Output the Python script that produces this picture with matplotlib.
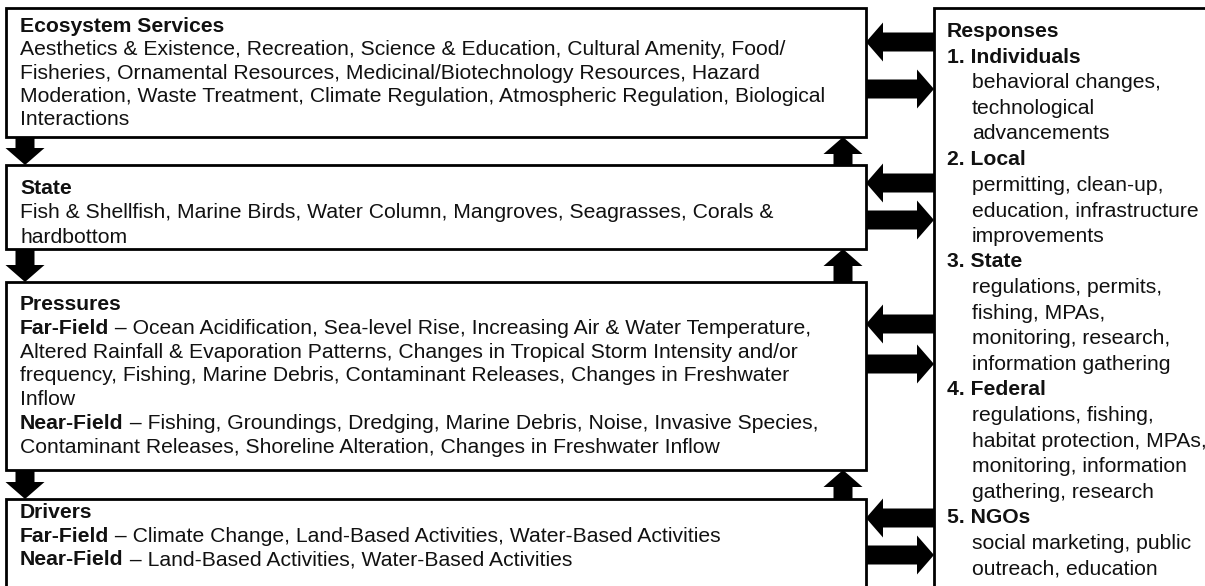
import matplotlib.pyplot as plt
from matplotlib.patches import Rectangle

plt.rcParams['font.family'] = ['Liberation Sans', 'DejaVu Sans']

# left column boxes: title + lines of (bold prefix, plain text)
services_title = "Ecosystem Services"
services_lines = [
    ("", "Aesthetics & Existence, Recreation, Science & Education, Cultural Amenity, Food/"),
    ("", "Fisheries, Ornamental Resources, Medicinal/Biotechnology Resources, Hazard"),
    ("", "Moderation, Waste Treatment, Climate Regulation, Atmospheric Regulation, Biological"),
    ("", "Interactions"),
]
state_title = "State"
state_lines = [
    ("", "Fish & Shellfish, Marine Birds, Water Column, Mangroves, Seagrasses, Corals &"),
    ("", "hardbottom"),
]
pressures_title = "Pressures"
pressures_lines = [
    ("Far-Field", " \u2013 Ocean Acidification, Sea-level Rise, Increasing Air & Water Temperature,"),
    ("", "Altered Rainfall & Evaporation Patterns, Changes in Tropical Storm Intensity and/or"),
    ("", "frequency, Fishing, Marine Debris, Contaminant Releases, Changes in Freshwater"),
    ("", "Inflow"),
    ("Near-Field", " \u2013 Fishing, Groundings, Dredging, Marine Debris, Noise, Invasive Species,"),
    ("", "Contaminant Releases, Shoreline Alteration, Changes in Freshwater Inflow"),
]
drivers_title = "Drivers"
drivers_lines = [
    ("Far-Field", " \u2013 Climate Change, Land-Based Activities, Water-Based Activities"),
    ("Near-Field", " \u2013 Land-Based Activities, Water-Based Activities"),
]

responses_title = "Responses"
response_groups = [
    ("1. Individuals", ["behavioral changes,", "technological", "advancements"]),
    ("2. Local", ["permitting, clean-up,", "education, infrastructure", "improvements"]),
    ("3. State", ["regulations, permits,", "fishing, MPAs,", "monitoring, research,",
                  "information gathering"]),
    ("4. Federal", ["regulations, fishing,", "habitat protection, MPAs,",
                    "monitoring, information", "gathering, research"]),
    ("5. NGOs", ["social marketing, public", "outreach, education"]),
]

fig = plt.figure(figsize=(12.05, 5.86), dpi=100)
ax = fig.add_axes([0, 0, 1, 1])
ax.set_xlim(0, 1205)
ax.set_ylim(586, 0)
ax.axis('off')
r = fig.canvas.get_renderer()
fs = 15.2
txt_col = '#111111'


def put_line(x, y, bold, rest):
    if bold:
        t = ax.text(x, y, bold, fontsize=fs, fontweight='bold', va='baseline', color=txt_col)
        x += t.get_window_extent(renderer=r).width
    if rest:
        ax.text(x, y, rest, fontsize=fs, va='baseline', color=txt_col)


# boxes: (top, bottom, first baseline, line pitch)
boxes = [
    (services_title, services_lines, 8, 137, 32, 23.3),
    (state_title, state_lines, 165, 249, 194, 24.5),
    (pressures_title, pressures_lines, 282, 470, 310, 23.8),
    (drivers_title, drivers_lines, 499, 640, 518, 23.5),
]
bx0, bx1 = 6, 866
for title, lines, top, bot, base, pitch in boxes:
    ax.add_patch(Rectangle((bx0, top), bx1 - bx0, bot - top, fc='white',
                           ec='black', lw=2))
    put_line(20, base, title, "")
    for i, (b, rest) in enumerate(lines):
        put_line(20, base + (i + 1) * pitch, b, rest)

# responses box
rx0 = 934
ax.add_patch(Rectangle((rx0, 8), 400, 700, fc='white', ec='black', lw=2))
y = 37
pitch = 25.6
put_line(947, y, responses_title, "")
for head, subs in response_groups:
    y += pitch
    put_line(947, y, head, "")
    for s in subs:
        y += pitch
        ax.text(972, y, s, fontsize=fs, va='baseline', color=txt_col)

arrow_kw = dict(width=19, head_width=39, head_length=17,
                length_includes_head=True, fc='black', ec='none')

# vertical arrows between boxes
for i in range(len(boxes) - 1):
    b_top = boxes[i][3]
    n_top = boxes[i + 1][2]
    ax.arrow(25, b_top, 0, n_top - b_top, **arrow_kw)
    ax.arrow(843, n_top, 0, b_top - n_top, **arrow_kw)

# horizontal arrows between responses and each box
h_arrows = [(42, 89), (183, 220), (324, 364), (518, 555)]
for yl, yr in h_arrows:
    ax.arrow(rx0, yl, bx1 - rx0, 0, **arrow_kw)
    ax.arrow(bx1, yr, rx0 - bx1, 0, **arrow_kw)

fig.savefig('out.png', dpi=100)
